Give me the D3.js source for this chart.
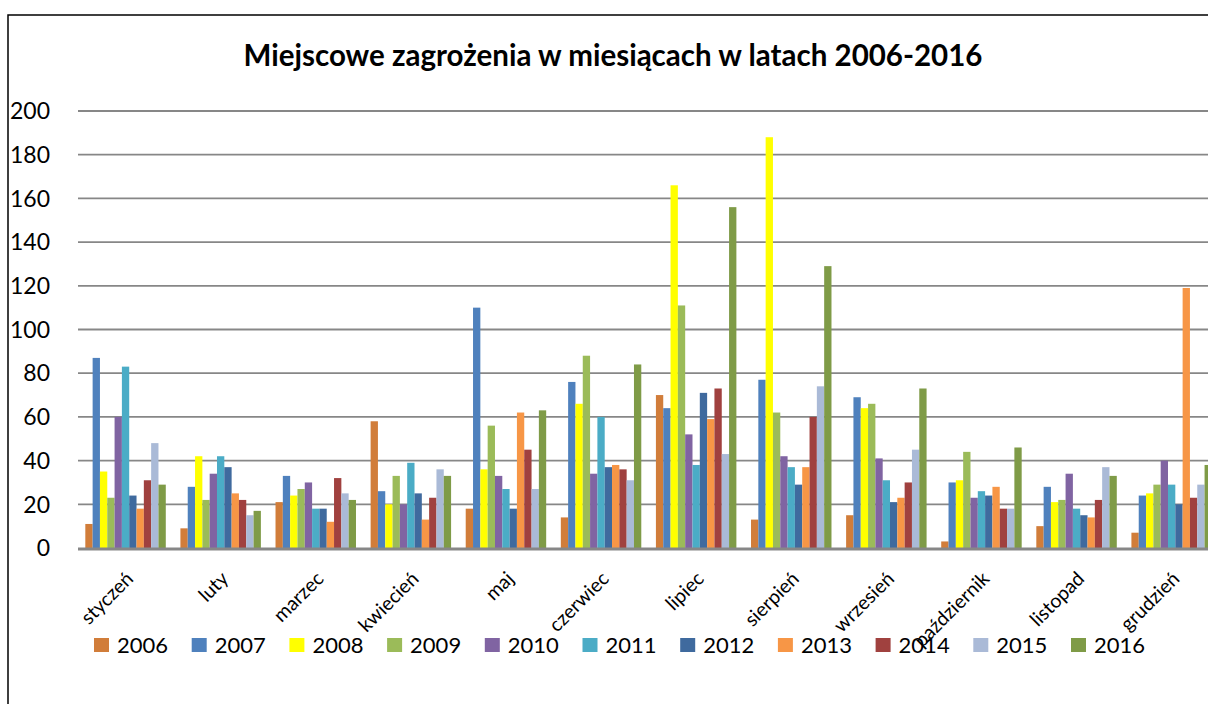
<!DOCTYPE html>
<html>
<head>
<meta charset="utf-8">
<script src="https://cdn.jsdelivr.net/npm/d3@7"></script>
<style>
  html, body { margin: 0; padding: 0; background: #fff; }
  svg { display: block; }
  text { font-family: Lato, "Open Sans", sans-serif; fill: #000; }
</style>
</head>
<body>
<svg id="chart" width="1208" height="704"></svg>
<script>
const months = ["styczeń","luty","marzec","kwiecień","maj","czerwiec","lipiec","sierpień","wrzesień","październik","listopad","grudzień"];
const years = ["2006","2007","2008","2009","2010","2011","2012","2013","2014","2015","2016"];
const yTicks = [0,20,40,60,80,100,120,140,160,180,200];
const title = "Miejscowe zagrożenia w miesiącach w latach 2006-2016";

// values per year, ordered by month
const v2006 = [11, 9, 21, 58, 18, 14, 70, 13, 15, 3, 10, 7];
const v2007 = [87, 28, 33, 26, 110, 76, 64, 77, 69, 30, 28, 24];
const v2008 = [35, 42, 24, 20, 36, 66, 166, 188, 64, 31, 21, 25];
const v2009 = [23, 22, 27, 33, 56, 88, 111, 62, 66, 44, 22, 29];
const v2010 = [60, 34, 30, 20, 33, 34, 52, 42, 41, 23, 34, 40];
const v2011 = [83, 42, 18, 39, 27, 60, 38, 37, 31, 26, 18, 29];
const v2012 = [24, 37, 18, 25, 18, 37, 71, 29, 21, 24, 15, 20];
const v2013 = [18, 25, 12, 13, 62, 38, 59, 37, 23, 28, 14, 119];
const v2014 = [31, 22, 32, 23, 45, 36, 73, 60, 30, 18, 22, 23];
const v2015 = [48, 15, 25, 36, 27, 31, 43, 74, 45, 18, 37, 29];
const v2016 = [29, 17, 22, 33, 63, 84, 156, 129, 73, 46, 33, 38];

const seriesValues = [v2006, v2007, v2008, v2009, v2010, v2011, v2012, v2013, v2014, v2015, v2016];
const colors = ["#D17D3A","#4F81BD","#FFFF00","#9BBB59","#8064A2","#4BACC6","#3F6A9E","#F79646","#A0413F","#AABAD7","#7F9B47"];

const svg = d3.select("#chart");

// outer chart border (extends past the viewport on right/bottom)
svg.append("rect")
  .attr("x", 8).attr("y", 15).attr("width", 1400).attr("height", 900)
  .attr("fill", "none").attr("stroke", "#000").attr("stroke-width", 1.5);

const plotLeft = 78, step = 95.1;
const x0 = d3.scaleBand().domain(months).range([plotLeft, plotLeft + step * months.length]).paddingInner(0).paddingOuter(0);
const x1 = d3.scaleBand().domain(years).range([0, x0.bandwidth()]).paddingInner(0).paddingOuter(1.0);
const y = d3.scaleLinear().domain([0, 200]).range([548, 111]);
const color = d3.scaleOrdinal().domain(years).range(colors);

// gridlines
svg.append("g").selectAll("line").data(yTicks.filter(t => t > 0)).join("line")
  .attr("x1", plotLeft).attr("x2", 1208)
  .attr("y1", d => y(d)).attr("y2", d => y(d))
  .attr("stroke", "#878787").attr("stroke-width", 1.8);

// y labels
svg.append("g").selectAll("text").data(yTicks).join("text")
  .attr("x", 50).attr("y", d => y(d)).attr("dy", "0.36em")
  .attr("text-anchor", "end").style("font-size", "23px")
  .text(d => d);

// bars
const rows = [];
years.forEach((yr, i) => months.forEach((m, j) => rows.push({ year: yr, month: m, value: seriesValues[i][j] })));
svg.append("g").selectAll("rect").data(rows).join("rect")
  .attr("x", d => x0(d.month) + x1(d.year))
  .attr("y", d => y(d.value))
  .attr("width", x1.bandwidth())
  .attr("height", d => y(0) - y(d.value))
  .attr("fill", d => color(d.year));

// baseline axis
svg.append("line").attr("x1", plotLeft).attr("x2", 1208)
  .attr("y1", y(0) + 1).attr("y2", y(0) + 1)
  .attr("stroke", "#878787").attr("stroke-width", 3);

// x labels
svg.append("g").selectAll("text").data(months).join("text")
  .attr("text-anchor", "end")
  .attr("transform", d => `translate(${x0(d) + x0.bandwidth() / 2 + 9},${580}) rotate(-45)`)
  .style("font-size", "19.5px")
  .text(d => d);

// title
svg.append("text").attr("x", 613).attr("y", 66).attr("text-anchor", "middle")
  .style("font-size", "29.5px").style("font-weight", "bold")
  .text(title);

// legend
const legend = svg.append("g").selectAll("g").data(years).join("g")
  .attr("transform", (d, i) => `translate(${94 + i * 97.7},638)`);
legend.append("rect").attr("width", 15).attr("height", 14).attr("fill", d => color(d));
legend.append("text").attr("x", 23).attr("y", 15).style("font-size", "22px").text(d => d);
</script>
</body>
</html>
